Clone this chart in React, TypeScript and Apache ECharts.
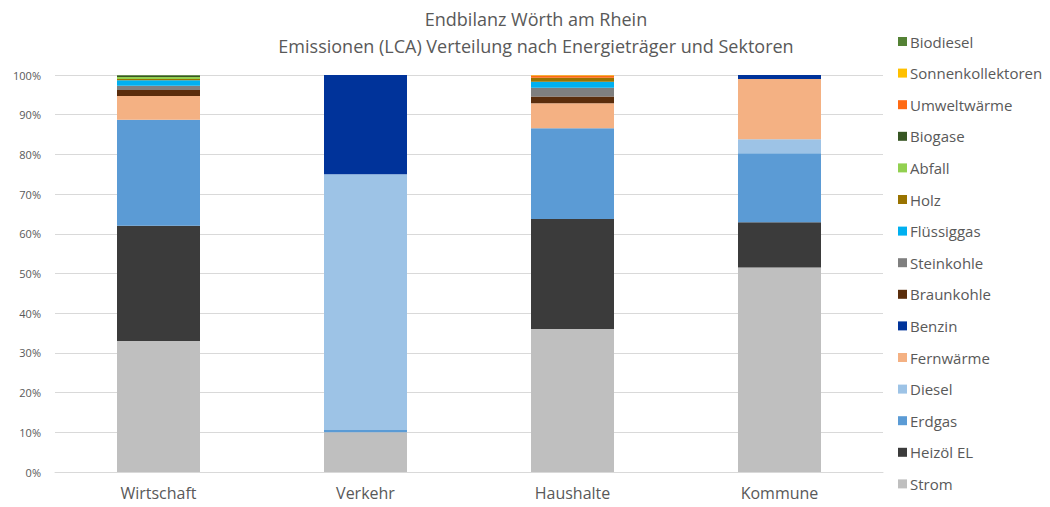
import React, { useEffect, useRef } from "react";
import * as echarts from "echarts";

const categories = ["Wirtschaft", "Verkehr", "Haushalte", "Kommune"];

const seriesNames = [
  "Strom",
  "Heizöl EL",
  "Erdgas",
  "Diesel",
  "Fernwärme",
  "Benzin",
  "Braunkohle",
  "Steinkohle",
  "Flüssiggas",
  "Holz",
  "Abfall",
  "Biogase",
  "Umweltwärme",
  "Sonnenkollektoren",
  "Biodiesel",
];

const seriesColors = [
  "#BFBFBF",
  "#3B3B3B",
  "#5B9BD5",
  "#9DC3E6",
  "#F4B183",
  "#00339A",
  "#5A2D0C",
  "#7F7F7F",
  "#00B0F0",
  "#997300",
  "#92D050",
  "#375623",
  "#FF6A13",
  "#FFC000",
  "#548235",
];

// values in percent per category: Wirtschaft, Verkehr, Haushalte, Kommune
const strom = [33.0, 10.0, 36.0, 51.5];
const heizoel = [29.0, 0, 27.7, 11.4];
const erdgas = [26.7, 0.6, 22.9, 17.4];
const diesel = [0, 64.4, 0, 3.5];
const fernwaerme = [6.0, 0, 6.3, 15.2];
const benzin = [0, 25.0, 0, 1.0];
const braunkohle = [1.5, 0, 1.7, 0];
const steinkohle = [1.1, 0, 2.2, 0];
const fluessiggas = [1.4, 0, 1.5, 0];
const holz = [0.3, 0, 1.0, 0];
const abfall = [0.5, 0, 0, 0];
const biogase = [0.3, 0, 0, 0];
const umweltwaerme = [0, 0, 0.6, 0];
const sonnenkollektoren = [0, 0, 0.1, 0];
const biodiesel = [0.2, 0, 0, 0];

const seriesValues = [
  strom,
  heizoel,
  erdgas,
  diesel,
  fernwaerme,
  benzin,
  braunkohle,
  steinkohle,
  fluessiggas,
  holz,
  abfall,
  biogase,
  umweltwaerme,
  sonnenkollektoren,
  biodiesel,
];

const yTicks = [0, 10, 20, 30, 40, 50, 60, 70, 80, 90, 100];

const FONT = "'Open Sans', 'Noto Sans', sans-serif";
const TEXT = "#595959";

export default function App() {
  const ref = useRef<HTMLDivElement>(null);

  useEffect(() => {
    document.body.style.margin = "0";
    if (!ref.current) return;
    const chart = echarts.init(ref.current, undefined, { renderer: "svg" });
    chart.setOption({
      animation: false,
      backgroundColor: "#FFFFFF",
      title: {
        text: "Endbilanz Wörth am Rhein\nEmissionen (LCA) Verteilung nach Energieträger und Sektoren",
        left: 531,
        top: 0,
        textAlign: "center",
        textStyle: {
          fontFamily: FONT,
          fontSize: 18,
          fontWeight: "normal",
          color: TEXT,
          lineHeight: 27,
        },
      },
      legend: {
        orient: "vertical",
        left: 893,
        top: 29,
        itemWidth: 9,
        itemHeight: 9,
        itemGap: 16.6,
        icon: "rect",
        data: seriesNames.slice().reverse(),
        textStyle: {
          fontFamily: FONT,
          fontSize: 15,
          color: TEXT,
          lineHeight: 15,
          padding: [0, 0, 0, -2],
        },
      },
      grid: {
        left: 55,
        right: 167,
        top: 75,
        bottom: 35,
      },
      xAxis: {
        type: "category",
        data: categories,
        axisLine: { show: true, lineStyle: { color: "#D9D9D9" } },
        axisTick: { show: false },
        axisLabel: {
          fontFamily: FONT,
          fontSize: 16,
          color: TEXT,
          margin: 13,
        },
      },
      yAxis: {
        type: "value",
        min: yTicks[0],
        max: yTicks[yTicks.length - 1],
        interval: 10,
        axisLine: { show: false },
        axisTick: { show: false },
        splitLine: { lineStyle: { color: "#D9D9D9", width: 1 } },
        axisLabel: {
          fontFamily: FONT,
          fontSize: 11,
          color: TEXT,
          margin: 14,
          formatter: (v: number) => `${v}%`,
        },
      },
      series: seriesNames.map((name, i) => ({
        name,
        type: "bar",
        stack: "total",
        barWidth: 83,
        data: seriesValues[i],
        itemStyle: { color: seriesColors[i] },
      })),
    });
    return () => chart.dispose();
  }, []);

  return <div ref={ref} style={{ width: 1050, height: 507 }} />;
}
